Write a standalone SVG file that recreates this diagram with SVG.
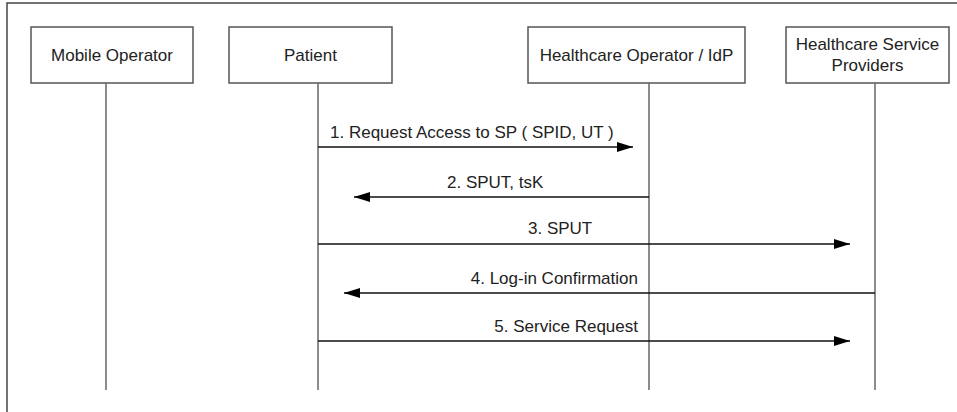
<svg xmlns="http://www.w3.org/2000/svg" width="957" height="412" viewBox="0 0 957 412">
<style>
.box{fill:#fff;stroke:#555;stroke-width:1.5}
.life{stroke:#666;stroke-width:1.5;fill:none}
.msg{stroke:#111;stroke-width:1.3;fill:none;marker-end:url(#ah)}
text{font-family:"Liberation Sans",Arial,sans-serif;font-size:17px;fill:#222}
.c{text-anchor:middle}
.e{text-anchor:end}
</style>
<defs>
<marker id="ah" viewBox="0 0 16 10" refX="16" refY="5" markerWidth="16" markerHeight="10" markerUnits="userSpaceOnUse" orient="auto">
<path d="M0,0 L16,5 L0,10 Z" fill="#000"/>
</marker>
</defs>
<rect width="957" height="412" fill="#fff"/>
<path d="M7,412 V3 H957" fill="none" stroke="#444" stroke-width="1.5"/>
<g id="mobile-operator">
<rect class="box" x="31" y="27" width="162" height="56"/>
<text class="c" x="112" y="61">Mobile Operator</text>
<line class="life" x1="106" y1="83" x2="106" y2="390"/>
</g>
<g id="patient">
<rect class="box" x="229" y="27" width="163" height="56"/>
<text class="c" x="310.5" y="61">Patient</text>
<line class="life" x1="318" y1="83" x2="318" y2="390"/>
</g>
<g id="healthcare-operator">
<rect class="box" x="528" y="27" width="217" height="56"/>
<text class="c" x="636.5" y="61">Healthcare Operator / IdP</text>
<line class="life" x1="649" y1="83" x2="649" y2="390"/>
</g>
<g id="healthcare-service-providers">
<rect class="box" x="786" y="27" width="163" height="56"/>
<text class="c" x="867.5" y="50">Healthcare Service</text>
<text class="c" x="867.5" y="71">Providers</text>
<line class="life" x1="875" y1="83" x2="875" y2="390"/>
</g>
<g id="connectors">
<line class="msg" x1="318" y1="147" x2="633" y2="147"/>
<text x="330" y="138">1. Request Access to SP ( SPID, UT )</text>
<line class="msg" x1="649" y1="197" x2="354" y2="197"/>
<text x="447" y="188">2. SPUT, tsK</text>
<line class="msg" x1="318" y1="244" x2="850" y2="244"/>
<text x="528" y="234">3. SPUT</text>
<line class="msg" x1="875" y1="293" x2="344" y2="293"/>
<text class="e" x="638" y="284">4. Log-in Confirmation</text>
<line class="msg" x1="318" y1="341" x2="850" y2="341"/>
<text class="e" x="638" y="332">5. Service Request</text>
</g>
</svg>
